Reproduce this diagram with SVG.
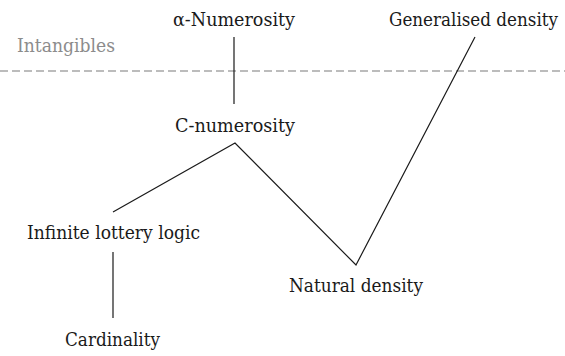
<svg xmlns="http://www.w3.org/2000/svg" width="565" height="356" viewBox="0 0 565 356">
<style>
text{font-family:"DejaVu Serif","Liberation Serif",serif;font-size:18px;fill:#1a1a1a}
.g{fill:#8c8c8c}
.c line,.c polyline{stroke:#1a1a1a;stroke-width:1.2;fill:none}
</style>
<rect width="565" height="356" fill="#fff"/>
<line x1="0" y1="71" x2="565" y2="71" stroke="#a6a6a6" stroke-width="1.5" stroke-dasharray="8,4"/>
<g class="c" id="connectors">
<line x1="234" y1="37" x2="234" y2="104"/>
<polyline points="113,212 235,143 356,265 475,37"/>
<line x1="113" y1="252" x2="113" y2="318"/>
</g>
<g id="intangibles"><text class="g" x="17" y="52" textLength="98" lengthAdjust="spacingAndGlyphs">Intangibles</text></g>
<g id="alpha"><text x="173" y="26" textLength="122" lengthAdjust="spacingAndGlyphs">α-Numerosity</text></g>
<g id="gen"><text x="389" y="26" textLength="169" lengthAdjust="spacingAndGlyphs">Generalised density</text></g>
<g id="cnum"><text x="175" y="132" textLength="120" lengthAdjust="spacingAndGlyphs">C-numerosity</text></g>
<g id="ill"><text x="27" y="239" textLength="173" lengthAdjust="spacingAndGlyphs">Infinite lottery logic</text></g>
<g id="nat"><text x="289" y="292" textLength="134" lengthAdjust="spacingAndGlyphs">Natural density</text></g>
<g id="card"><text x="65" y="346" textLength="95" lengthAdjust="spacingAndGlyphs">Cardinality</text></g>
</svg>
